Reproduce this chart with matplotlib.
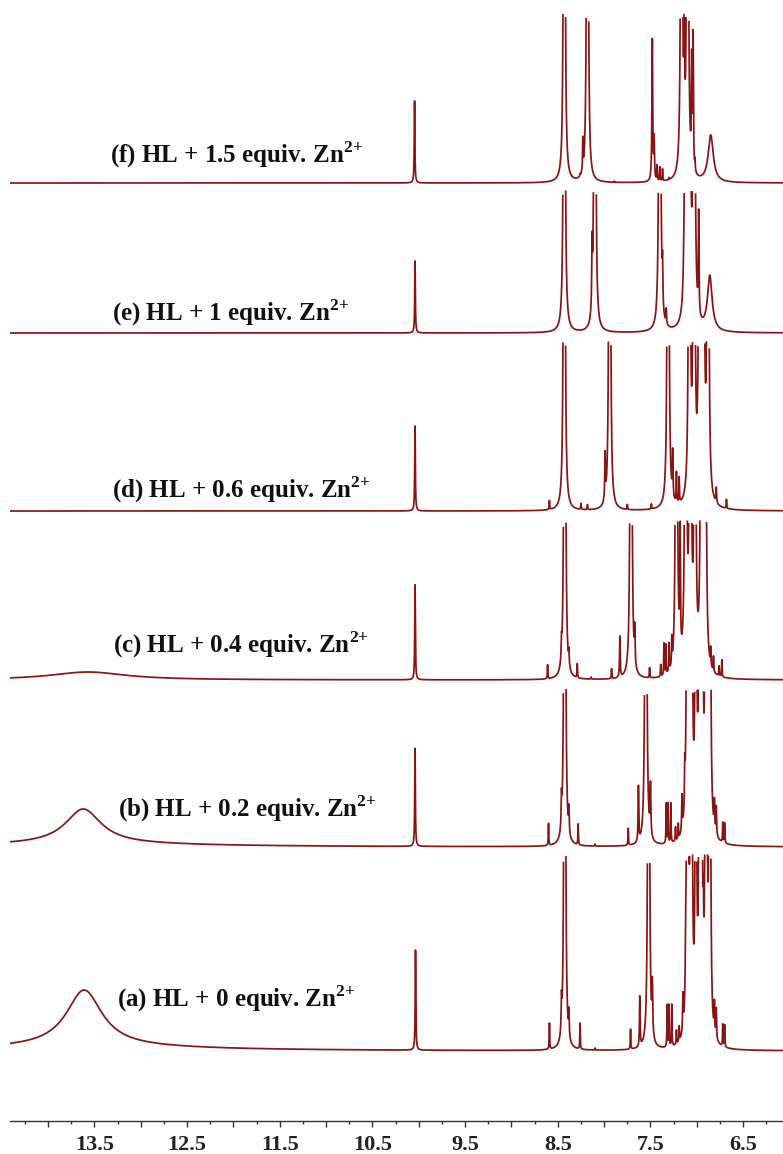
import numpy as np
import matplotlib
matplotlib.use("Agg")
import matplotlib.pyplot as plt
from matplotlib.ticker import MultipleLocator, FuncFormatter

# ---------------- data ----------------
labels = ["(a) HL + 0 equiv. Zn$^{\\mathbf{2{+}}}$",
          "(b) HL + 0.2 equiv. Zn$^{\\mathbf{2{+}}}$",
          "(c) HL + 0.4 equiv. Zn$^{\\mathbf{2{+}}}$",
          "(d) HL + 0.6 equiv. Zn$^{\\mathbf{2{+}}}$",
          "(e) HL + 1 equiv. Zn$^{\\mathbf{2{+}}}$",
          "(f) HL + 1.5 equiv. Zn$^{\\mathbf{2{+}}}$"]

tick_labels = [13.5, 12.5, 11.5, 10.5, 9.5, 8.5, 7.5, 6.5]

# peak lists: position (ppm), height (px above baseline), half width (ppm)
a_ppm = [13.61, 13.60, 10.035, 8.59, 8.46, 8.425, 8.38, 8.26, 8.10, 7.715, 7.615, 7.52, 7.48,
         7.32, 7.30, 7.27, 7.22, 7.19, 7.15, 7.12, 7.10, 7.06, 7.01, 6.97, 6.95, 6.93, 6.90, 6.86,
         6.81, 6.79, 6.72, 6.70]
a_h = [57, 4, 100, 26, 30, 1500, 25, 26, 2, 20, 50, 1500, 50,
       42, 42, 42, 14, 15, 35, 40, 1500, 1500, 800, 1000, 800, 60, 1500, 1200,
       30, 30, 22, 22]
a_w = [0.235, 1.5, 0.004, 0.003, 0.004, 0.005, 0.004, 0.003, 0.003, 0.003, 0.004, 0.005, 0.005,
       0.003, 0.003, 0.003, 0.003, 0.003, 0.004, 0.004, 0.005, 0.005, 0.005, 0.005, 0.005, 0.004, 0.005, 0.005,
       0.004, 0.004, 0.003, 0.003]

b_ppm = [13.62, 13.60, 10.04, 8.60, 8.46, 8.425, 8.38, 8.28, 8.10, 7.74, 7.63, 7.55, 7.50,
         7.33, 7.31, 7.28, 7.23, 7.20, 7.16, 7.13, 7.10, 7.06, 7.01, 6.97, 6.95, 6.93, 6.90, 6.86,
         6.81, 6.79, 6.72, 6.70]
b_h = [35, 3, 98, 22, 28, 1500, 24, 21, 2, 17, 55, 1500, 50,
       40, 40, 40, 14, 15, 35, 40, 1500, 1500, 800, 1000, 800, 60, 1500, 1200,
       28, 28, 20, 20]
b_w = [0.235, 1.5, 0.004, 0.003, 0.004, 0.005, 0.004, 0.003, 0.003, 0.003, 0.004, 0.005, 0.005,
       0.003, 0.003, 0.003, 0.003, 0.003, 0.004, 0.004, 0.005, 0.005, 0.005, 0.005, 0.005, 0.004, 0.005, 0.005,
       0.004, 0.004, 0.003, 0.003]

c_ppm = [13.57, 10.04, 8.61, 8.46, 8.425, 8.38, 8.29, 8.14, 7.92, 7.83, 7.71, 7.67, 7.51, 7.39,
         7.355, 7.335, 7.30, 7.27, 7.22, 7.18, 7.12, 7.07, 7.02, 6.95, 6.91, 6.85, 6.82, 6.76, 6.73]
c_h = [8, 95, 14, 18, 1500, 14, 14, 2, 10, 41, 1500, 34, 10, 12,
       32, 30, 28, 26, 1500, 130, 1500, 1500, 1200, 1500, 1500, 17, 15, 10, 17]
c_w = [0.5, 0.004, 0.003, 0.004, 0.005, 0.004, 0.003, 0.003, 0.003, 0.004, 0.005, 0.004, 0.003, 0.003,
       0.003, 0.003, 0.003, 0.003, 0.005, 0.004, 0.005, 0.005, 0.005, 0.005, 0.005, 0.003, 0.003, 0.003, 0.003]

d_ppm = [10.04, 8.59, 8.43, 8.25, 8.18, 7.99, 7.94, 7.75, 7.49, 7.31, 7.26, 7.22, 7.19,
         7.08, 7.03, 6.97, 6.93, 6.88, 6.79, 6.68]
d_h = [85, 9, 1500, 6, 5, 45, 1500, 5, 5, 1500, 45, 30, 25,
       1500, 1500, 1500, 1500, 1500, 15, 9]
d_w = [0.004, 0.003, 0.005, 0.003, 0.003, 0.004, 0.005, 0.003, 0.003, 0.005, 0.004, 0.003, 0.003,
       0.005, 0.005, 0.005, 0.005, 0.005, 0.004, 0.003]

e_ppm = [10.04, 8.43, 8.13, 8.10, 7.40, 7.37, 7.33, 7.12, 7.08, 7.03, 6.98, 6.86]
e_h = [72, 1500, 60, 1500, 1500, 40, 15, 1500, 1500, 1500, 100, 55]
e_w = [0.004, 0.005, 0.004, 0.005, 0.005, 0.004, 0.004, 0.005, 0.005, 0.005, 0.004, 0.03]

f_ppm = [10.045, 8.43, 8.26, 8.23, 8.18, 7.89, 7.48, 7.46, 7.43, 7.40, 7.37, 7.30,
         7.165, 7.135, 7.10, 7.055, 7.04, 7.02, 6.85]
f_h = [82, 1500, 2, 31, 1500, 1, 142, 40, 15, 14, 12, 2,
       1500, 157, 1500, 102, 132, 10, 47]
f_w = [0.004, 0.005, 0.003, 0.003, 0.005, 0.003, 0.005, 0.004, 0.003, 0.003, 0.003, 0.003,
       0.005, 0.004, 0.005, 0.004, 0.004, 0.003, 0.033]

traces = [(a_ppm, a_h, a_w), (b_ppm, b_h, b_w), (c_ppm, c_h, c_w),
          (d_ppm, d_h, d_w), (e_ppm, e_h, e_w), (f_ppm, f_h, f_w)]

# ---------------- layout (pixels from top of image) ----------------
W, H = 783, 1154
axis_px = 1121
baseline_px = [1051, 847, 680, 511, 333, 183]
clip_top_px = [855, 689, 521, 342, 191, 14]
label_pos_px = [(117, 1007), (118, 817), (113, 653), (112, 498), (112, 321), (110, 163)]
x_left_ppm, x_right_ppm = 14.41, 6.07

plt.rcParams['mathtext.fontset'] = 'custom'
plt.rcParams['mathtext.rm'] = 'Liberation Serif'
plt.rcParams['mathtext.bf'] = 'Liberation Serif:bold'

fig = plt.figure(figsize=(W / 100, H / 100), dpi=100)
ax = fig.add_axes([10 / W, (H - axis_px) / H, (W - 10) / W, axis_px / H])
ax.set_xlim(x_left_ppm, x_right_ppm)
ax.set_ylim(0, axis_px)

x = np.linspace(x_left_ppm, x_right_ppm, 20000)
color = '#861515'
for (pp, hh, ww), base, top in zip(traces, baseline_px, clip_top_px):
    spec = np.zeros_like(x)
    for p, h, w in zip(pp, hh, ww):
        spec += h / (1.0 + ((x - p) / w) ** 2)
    limit = base - top
    spec = np.where(spec > limit, np.nan, spec)
    ax.plot(x, (axis_px - base) + spec, color=color, lw=1.25, solid_joinstyle='round')

for txt, (lx, ly) in zip(labels, label_pos_px):
    fig.text(lx / W, (H - ly) / H, txt, fontsize=18, fontweight='bold',
             family='Liberation Serif', color='#111111', ha='left', va='baseline')

for s in ['top', 'left', 'right']:
    ax.spines[s].set_visible(False)
ax.spines['bottom'].set_color('#333333')
ax.spines['bottom'].set_linewidth(1.0)
ax.set_yticks([])
ax.xaxis.set_major_locator(MultipleLocator(0.5))
ax.xaxis.set_minor_locator(MultipleLocator(0.25))
ax.xaxis.set_major_formatter(FuncFormatter(
    lambda v, pos: (f"{v:.1f}" if any(abs(v - t) < 1e-6 for t in tick_labels) else "")))
ax.tick_params(axis='x', which='major', direction='out', length=4, width=1, color='#333333',
               pad=6, labelsize=16)
ax.tick_params(axis='x', which='minor', direction='out', length=2, width=1, color='#333333')
for lab in ax.get_xticklabels():
    lab.set_fontfamily('Liberation Serif')
    lab.set_fontweight('bold')
    lab.set_color('#222222')

fig.savefig('out.png', dpi=100)
